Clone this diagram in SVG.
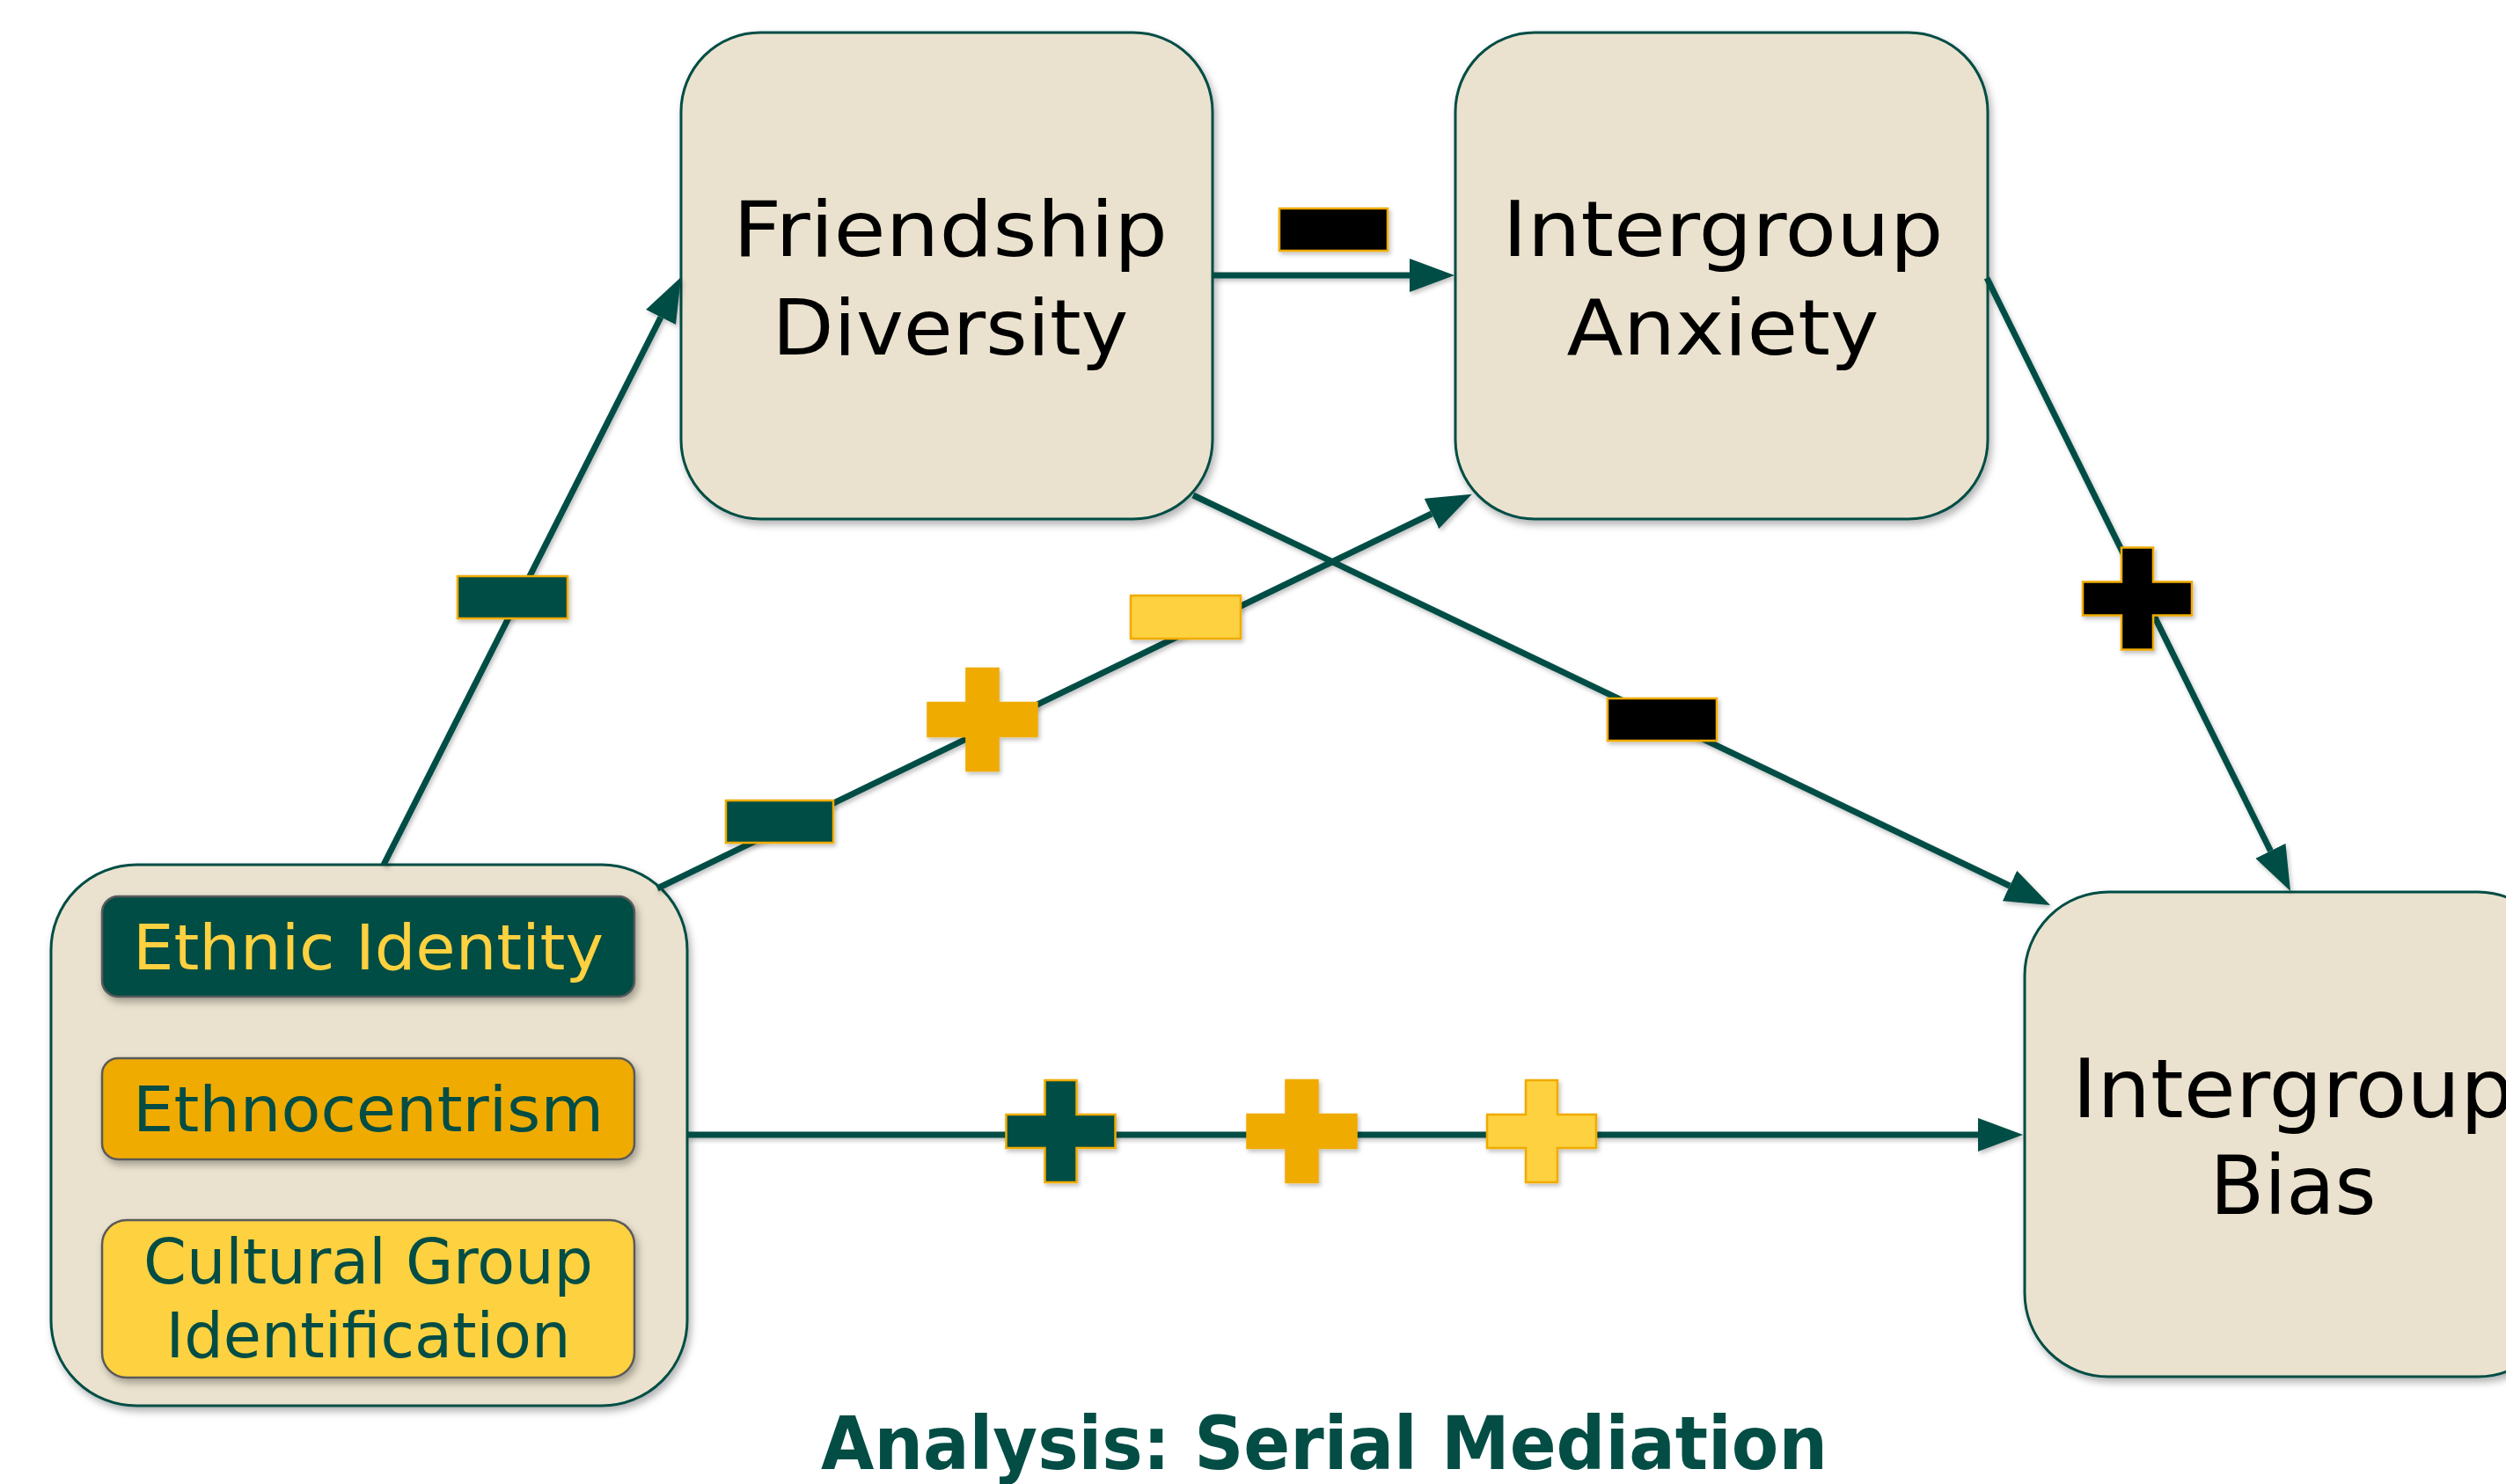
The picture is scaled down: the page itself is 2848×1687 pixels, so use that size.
<svg xmlns="http://www.w3.org/2000/svg" xmlns:xlink="http://www.w3.org/1999/xlink" width="2848" height="1687" viewBox="0 0 2848 1687">
<style>
.node{fill:#EAE2CE;stroke:#034D45;stroke-width:3}
.lbl{font-family:"DejaVu Sans","Liberation Sans",sans-serif;fill:#000;text-anchor:middle}
.inner{stroke:#5A5A5A;stroke-width:2.5}
.ilbl{font-family:"DejaVu Sans","Liberation Sans",sans-serif;font-size:72px;text-anchor:middle}
.edge{stroke:#034D45;stroke-width:7;fill:none}
.mk{stroke:#F0AB00;stroke-width:2.5}
.title{font-family:"DejaVu Sans","Liberation Sans",sans-serif;font-weight:bold;font-size:84px;fill:#034D45;text-anchor:middle}
</style>
<defs>
<filter id="sh" x="-10%" y="-10%" width="130%" height="130%">
<feDropShadow dx="3" dy="5" stdDeviation="4" flood-color="#000" flood-opacity="0.3"/>
</filter>
<filter id="shl" x="-10%" y="-10%" width="130%" height="130%">
<feDropShadow dx="2" dy="3" stdDeviation="2.5" flood-color="#000" flood-opacity="0.25"/>
</filter>
<marker id="arr" markerUnits="userSpaceOnUse" markerWidth="52" markerHeight="40" refX="0" refY="19" orient="auto" viewBox="0 0 52 40">
<path d="M0,0 L51,19 L0,38 Z" fill="#034D45"/>
</marker>
<path id="plus" d="M-18,-58 H18 V-19 H62 V19 H18 V58 H-18 V19 H-62 V-19 H-18 Z"/>
</defs>
<rect width="2848" height="1687" fill="#FFFFFF"/>

<g id="node-friendship" filter="url(#sh)">
<rect class="node" x="774" y="37" width="604" height="553" rx="90" ry="90"/>
<text class="lbl" font-size="88" x="1080" y="291" textLength="494" lengthAdjust="spacingAndGlyphs">Friendship</text>
<text class="lbl" font-size="88" x="1080" y="403" textLength="405" lengthAdjust="spacingAndGlyphs">Diversity</text>
</g>

<g id="node-anxiety" filter="url(#sh)">
<rect class="node" x="1654" y="37" width="605" height="553" rx="90" ry="90"/>
<text class="lbl" font-size="88" x="1958" y="291" textLength="501" lengthAdjust="spacingAndGlyphs">Intergroup</text>
<text class="lbl" font-size="88" x="1958" y="403" textLength="355" lengthAdjust="spacingAndGlyphs">Anxiety</text>
</g>

<g id="node-bias" filter="url(#sh)">
<rect class="node" x="2301" y="1014" width="610" height="551" rx="95" ry="95"/>
<text class="lbl" font-size="92" x="2606" y="1270" textLength="502" lengthAdjust="spacingAndGlyphs">Intergroup</text>
<text class="lbl" font-size="92" x="2606" y="1380" textLength="189" lengthAdjust="spacingAndGlyphs">Bias</text>
</g>

<g id="node-predictors">
<rect class="node" x="58" y="983" width="723" height="615" rx="97" ry="97" filter="url(#sh)"/>
<g id="node-ethnic-identity">
<rect class="inner" x="116" y="1019" width="605" height="114" rx="18" ry="18" fill="#034D45" filter="url(#sh)"/>
<text class="ilbl" x="418.5" y="1102" fill="#FDD13F" textLength="535" lengthAdjust="spacingAndGlyphs">Ethnic Identity</text>
</g>
<g id="node-ethnocentrism">
<rect class="inner" x="116" y="1203" width="605" height="115" rx="18" ry="18" fill="#F0AB00" filter="url(#sh)"/>
<text class="ilbl" x="418.5" y="1286" fill="#034D45" textLength="535" lengthAdjust="spacingAndGlyphs">Ethnocentrism</text>
</g>
<g id="node-cultural-group">
<rect class="inner" x="116" y="1387" width="605" height="179" rx="28" ry="28" fill="#FDD13F" filter="url(#sh)"/>
<text class="ilbl" x="418.5" y="1459" fill="#034D45" textLength="511" lengthAdjust="spacingAndGlyphs">Cultural Group</text>
<text class="ilbl" x="418.5" y="1543" fill="#034D45" textLength="460" lengthAdjust="spacingAndGlyphs">Identification</text>
</g>
</g>

<g id="connectors" filter="url(#shl)">
<line class="edge" x1="436" y1="983" x2="751" y2="360.5" marker-end="url(#arr)"/>
<line class="edge" x1="1378" y1="313" x2="1602" y2="313" marker-end="url(#arr)"/>
<line class="edge" x1="2258" y1="316" x2="2580.4" y2="967.3" marker-end="url(#arr)"/>
<line class="edge" x1="1356" y1="563" x2="2284" y2="1007" marker-end="url(#arr)"/>
<line class="edge" x1="747" y1="1010" x2="1627" y2="584" marker-end="url(#arr)"/>
<line class="edge" x1="781" y1="1290" x2="2248" y2="1290" marker-end="url(#arr)"/>
</g>

<g id="signs" filter="url(#shl)">
<rect class="mk" x="520" y="655" width="125" height="48" fill="#034D45"/>
<rect class="mk" x="1454" y="237" width="123" height="48" fill="#000000"/>
<rect class="mk" x="1827" y="794" width="124" height="48" fill="#000000"/>
<rect class="mk" x="825" y="910" width="122" height="48" fill="#034D45"/>
<rect class="mk" x="1285" y="677" width="125" height="49" fill="#FDD13F"/>
<use href="#plus" x="1116.5" y="818" class="mk" fill="#F0AB00"/>
<use href="#plus" x="2429" y="680.5" class="mk" fill="#000000"/>
<use href="#plus" x="1205.5" y="1286" class="mk" fill="#034D45"/>
<use href="#plus" x="1479.5" y="1286" class="mk" fill="#F0AB00"/>
<use href="#plus" x="1752" y="1286" class="mk" fill="#FDD13F"/>
</g>

<text class="title" x="1505" y="1670" textLength="1144" lengthAdjust="spacingAndGlyphs">Analysis: Serial Mediation</text>
</svg>
